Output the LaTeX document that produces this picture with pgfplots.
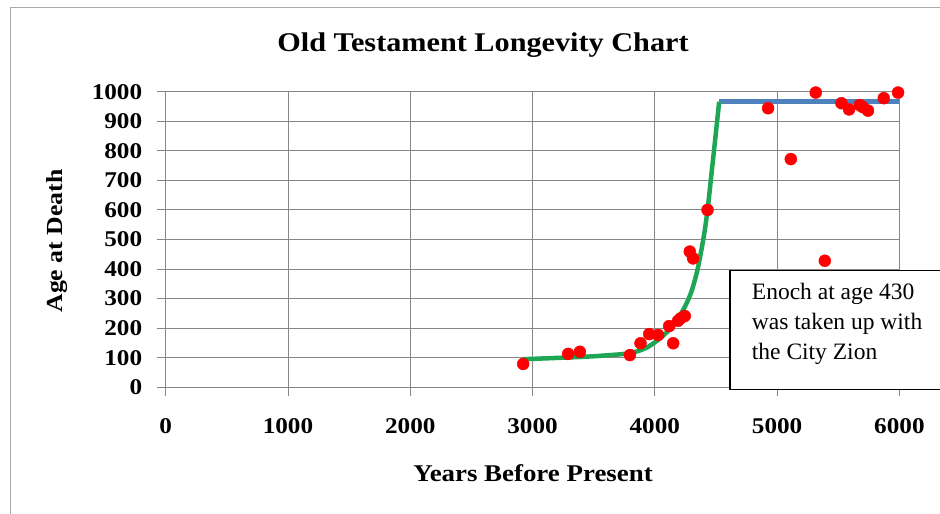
\documentclass[border=0pt]{standalone}
\usepackage{fontspec}
\setmainfont{Liberation Serif}[FakeStretch=1.12]
\newfontfamily\timesf{Liberation Serif}
\usepackage{pgfplots}
\pgfplotsset{compat=1.18}
\definecolor{gridgray}{RGB}{134,134,134}
\definecolor{xlgreen}{RGB}{30,166,84}
\definecolor{xlblue}{RGB}{79,129,189}
\definecolor{framegray}{RGB}{170,170,170}
\begin{document}
\begin{tikzpicture}[x=1bp,y=1bp]
\path[use as bounding box] (0,0) rectangle (940,514);
\fill[white] (0,0) rectangle (940,514);
\draw[framegray, line width=1bp] (10,0) -- (10,506) -- (940,506);
\begin{axis}[
  at={(165.7bp,126.7bp)}, anchor=south west,
  scale only axis, width=733.7bp, height=295.6bp,
  xmin=0, xmax=6000, ymin=0, ymax=1000,
  xtick={0,1000,...,6000}, ytick={0,100,...,1000},
  grid=major,
  grid style={gridgray, line width=0.9bp},
  axis line style={gridgray, line width=0.9bp},
  major tick style={gridgray, line width=0.9bp},
  tick align=outside, major tick length=9bp,
  axis x line*=bottom, axis y line*=left,
  /pgf/number format/assume math mode=true,
  /pgf/number format/set thousands separator={},
  tick label style={font=\fontsize{22.5bp}{26bp}\selectfont\bfseries},
  yticklabel style={xshift=-11bp},
  xticklabel style={yshift=-19bp},
  clip=false,
]
\addplot[xlblue, line width=4.5bp] coordinates {(4526,966) (6000,966)};
\addplot[only marks, mark=*, mark size=6bp, color=red, mark options={draw=red, fill=red}] coordinates {
(2923,79) (3291,113) (3387,120) (3796,109) (3883,149) (3954,180) (4027,177)
(4117,207) (4150,149) (4190,225) (4210,233) (4245,241) (4286,459) (4313,436)
(4431,600) (4926,944) (5112,772) (5316,997) (5390,428) (5526,961) (5588,940)
(5675,955) (5700,948) (5743,936) (5872,978) (5989,997)};
\addplot[xlgreen, line width=4.5bp, smooth] coordinates {
(2923,95) (3300,101) (3500,105) (3700,111) (3750,113) (3800,116) (3850,121)
(3900,128) (3950,138) (4000,152) (4050,168) (4100,187) (4150,210) (4200,240)
(4250,276) (4300,325) (4350,400) (4400,510) (4431,600) (4460,710) (4490,825)
(4526,966)};
\end{axis}
\fill[white] (730,124.7) rectangle (945,243.3);
\draw[black, line width=1.2bp] (945,243.3) -- (730,243.3) -- (730,124.7) -- (945,124.7);
\node[anchor=north west, align=left, inner sep=0pt, font=\timesf\fontsize{23.5bp}{30bp}\selectfont] at (751.7,231) {Enoch at age 430\\was taken up with\\the City Zion};
\node[font=\fontsize{27bp}{30bp}\selectfont\bfseries] at (483,469) {Old Testament Longevity Chart};
\node[font=\fontsize{24bp}{28bp}\selectfont\bfseries] at (533,41) {Years Before Present};
\node[font=\fontsize{23bp}{28bp}\selectfont\bfseries, rotate=90] at (57,273) {Age at Death};
\end{tikzpicture}
\end{document}
